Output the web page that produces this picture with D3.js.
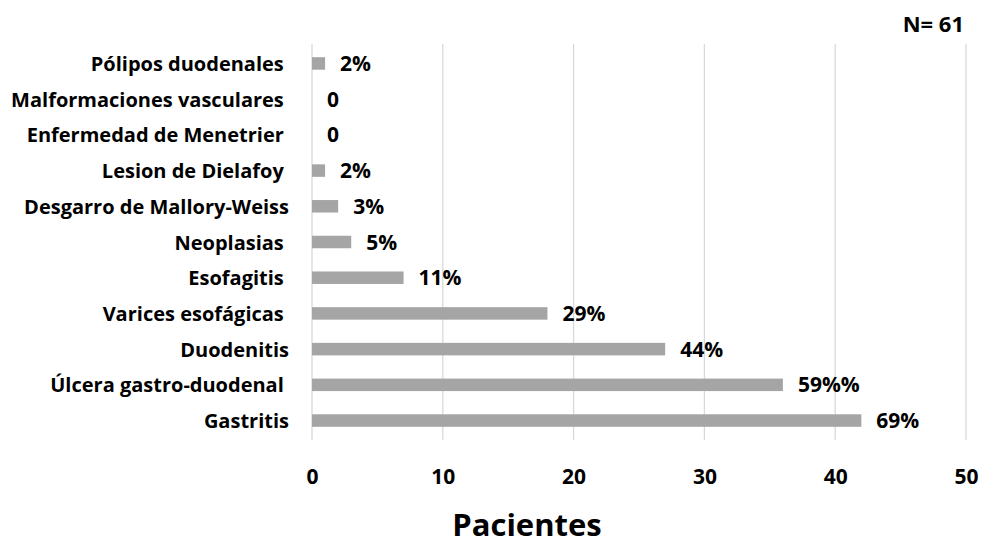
<!DOCTYPE html>
<html>
<head>
<meta charset="utf-8">
<script src="https://cdn.jsdelivr.net/npm/d3@7"></script>
<style>
  html, body { margin: 0; padding: 0; background: #fff; }
  svg text { font-family: "Open Sans", sans-serif; font-weight: bold; fill: #000; }
</style>
</head>
<body>
<svg id="chart" width="981" height="546"></svg>
<script>
// Diagnoses, listed bottom to top as drawn
const categories = [
  "Gastritis",
  "Úlcera gastro-duodenal ",
  "Duodenitis",
  "Varices esofágicas ",
  "Esofagitis ",
  "Neoplasias ",
  "Desgarro de Mallory-Weiss",
  "Lesion de Dielafoy ",
  "Enfermedad de Menetrier ",
  "Malformaciones vasculares ",
  "Pólipos duodenales "
];
// Number of patients per diagnosis
const patients = [42, 36, 27, 18, 7, 3, 2, 1, 0, 0, 1];
// Data labels shown next to each bar
const valueLabels = ["69%", "59%%", "44%", "29%", "11%", "5%", "3%", "2%", "0", "0", "2%"];
const xTicks = [0, 10, 20, 30, 40, 50];

const svg = d3.select("#chart");
const plotLeft = 312, plotRight = 966, plotTop = 44, plotBottom = 440;
const font = "'Open Sans', sans-serif";

const x = d3.scaleLinear().domain([0, 50]).range([plotLeft, plotRight]);
// top of the chart holds the last category
const y = d3.scaleBand()
  .domain(categories.slice().reverse())
  .range([plotTop, plotBottom])
  .paddingInner(0.65)
  .paddingOuter(0.37);

// vertical gridlines
svg.append("g")
  .selectAll("line")
  .data(xTicks)
  .join("line")
  .attr("x1", d => x(d)).attr("x2", d => x(d))
  .attr("y1", plotTop).attr("y2", plotBottom)
  .attr("stroke", "#d9d9d9")
  .attr("stroke-width", 1.3);

// x axis tick labels
const xAxis = d3.axisBottom(x).tickValues(xTicks).tickSize(0).tickPadding(0);
const gx = svg.append("g").attr("transform", "translate(0,484)").call(xAxis);
gx.select(".domain").remove();
gx.selectAll("text")
  .attr("font-size", 21)
  .attr("dy", 0)
  .style("font-family", font)
  .style("font-weight", "bold");

// y axis category labels
const yAxis = d3.axisLeft(y).tickSize(0).tickPadding(0);
const gy = svg.append("g").attr("transform", "translate(289,0)").call(yAxis);
gy.select(".domain").remove();
gy.selectAll("text")
  .attr("font-size", 20)
  .attr("dy", "0.38em")
  .style("white-space", "pre")
  .style("font-family", font)
  .style("font-weight", "bold");

const rows = categories.map((c, i) => ({ c, v: patients[i], label: valueLabels[i] }));

// bars
svg.append("g")
  .selectAll("rect")
  .data(rows)
  .join("rect")
  .attr("x", x(0))
  .attr("y", d => y(d.c))
  .attr("width", d => x(d.v) - x(0))
  .attr("height", y.bandwidth())
  .attr("fill", "#a5a5a5");

// value labels
svg.append("g")
  .selectAll("text")
  .data(rows)
  .join("text")
  .attr("x", d => x(d.v) + 15)
  .attr("y", d => y(d.c) + y.bandwidth() / 2)
  .attr("dy", "0.36em")
  .attr("font-size", 21)
  .text(d => d.label);

// axis title
svg.append("text")
  .attr("x", 527)
  .attr("y", 536)
  .attr("text-anchor", "middle")
  .attr("font-size", 31)
  .text("Pacientes");

// sample size
svg.append("text")
  .attr("x", 964)
  .attr("y", 32)
  .attr("text-anchor", "end")
  .attr("font-size", 22)
  .text("N= 61");
</script>
</body>
</html>
